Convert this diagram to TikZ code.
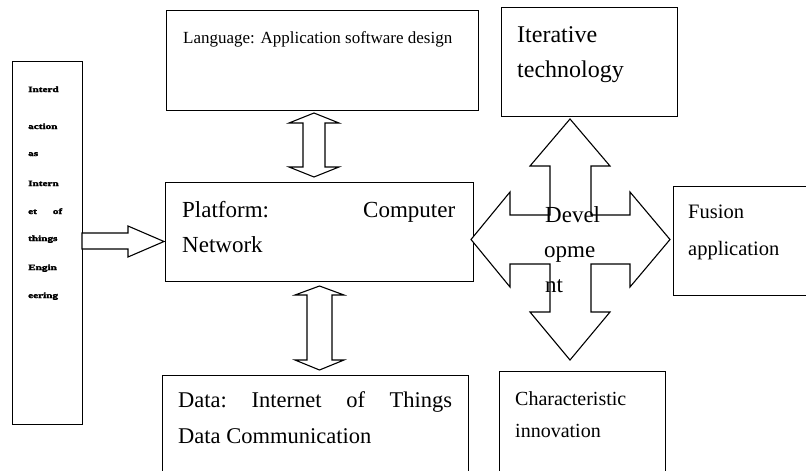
\documentclass[tikz,border=0pt]{standalone}
\usepackage{fontspec}
\setmainfont{Liberation Serif}
\newfontfamily\widefont[FakeStretch=1.4,FakeBold=3]{Liberation Serif Bold}
\begin{document}
\begin{tikzpicture}[x=1pt,y=-1pt,
  box/.style={draw,line width=1pt,anchor=north west,inner sep=0pt},
  blockarrow/.style={draw,line width=1.1pt,fill=white,line join=miter},
  txt/.style={anchor=base west,inner sep=0pt},
  tiny/.style={anchor=base west,inner sep=0pt,font=\widefont\fontsize{8}{9}\selectfont}]
\useasboundingbox (0,0) rectangle (806,471);
\clip (0,0) rectangle (806,471);
% boxes
\node[box,minimum width=70pt,minimum height=363pt] (inter) at (12,61) {};
\node[box,minimum width=312pt,minimum height=100pt] (lang) at (166,10) {};
\node[box,minimum width=308pt,minimum height=99pt] (plat) at (165,182) {};
\node[box,minimum width=306pt,minimum height=115pt] (data) at (162,375) {};
\node[box,minimum width=176pt,minimum height=109pt] (iter) at (501,7) {};
\node[box,minimum width=142pt,minimum height=109pt] (fusion) at (673,186) {};
\node[box,minimum width=166pt,minimum height=115pt] (char) at (499,371) {};
% block arrows
\draw[blockarrow] (82,233) -- (128,233) -- (128,226) -- (164,241.5) -- (128,257) -- (128,249) -- (82,249) -- cycle;
\draw[blockarrow] (314,113) -- (339,123) -- (325,123) -- (325,167) -- (339,167) -- (314,177) -- (289,167) -- (303,167) -- (303,123) -- (289,123) -- cycle;
\draw[blockarrow] (319.5,286) -- (344,295) -- (332,295) -- (332,360) -- (344,360) -- (319.5,370) -- (295,360) -- (307,360) -- (307,295) -- (295,295) -- cycle;
\draw[blockarrow] (570,119) -- (610,166) -- (591,166) -- (591,215) -- (630,215) -- (630,192) -- (670,239.5) -- (630,287) -- (630,264) -- (591,264) -- (591,312) -- (610,312) -- (570,360) -- (530,312) -- (550,312) -- (550,264) -- (510,264) -- (510,287) -- (471,239.5) -- (510,192) -- (510,215) -- (550,215) -- (550,166) -- (530,166) -- cycle;
% texts
\node[tiny] (t1) at (28,92) {Interd};
\node[tiny] (t2) at (28,129) {action};
\node[tiny] (t3) at (28,156) {as};
\node[tiny] (t4) at (28,186) {Intern};
\node[tiny] (t5) at (28,214) {\hbox to 34pt{et\hfill of}};
\node[tiny] (t6) at (28,241) {things};
\node[tiny] (t7) at (28,270) {Engin};
\node[tiny] (t8) at (28,298) {eering};
\node[txt,font=\fontsize{17}{20}\selectfont] (l1) at (183,43) {Language: Application software design};
\node[txt,font=\fontsize{23}{27}\selectfont] (p1) at (182,217) {\hbox to 273pt{Platform:\hfill Computer}};
\node[txt,font=\fontsize{23}{27}\selectfont] (p2) at (182,252) {Network};
\node[txt,font=\fontsize{22.5}{27}\selectfont] (d1) at (178,407) {\hbox to 274pt{Data:\hfill Internet\hfill of\hfill Things}};
\node[txt,font=\fontsize{22.5}{27}\selectfont] (d2) at (178,443) {Data Communication};
\node[txt,font=\fontsize{24}{28}\selectfont] (i1) at (517,42) {Iterative};
\node[txt,font=\fontsize{24}{28}\selectfont] (i2) at (517,77) {technology};
\node[txt,font=\fontsize{20.5}{24}\selectfont] (f1) at (688,218) {Fusion};
\node[txt,font=\fontsize{20.5}{24}\selectfont] (f2) at (688,255) {application};
\node[txt,font=\fontsize{20}{24}\selectfont] (c1) at (515,405) {Characteristic};
\node[txt,font=\fontsize{20}{24}\selectfont] (c2) at (515,437) {innovation};
\node[txt,font=\fontsize{23}{27}\selectfont] (v1) at (545,222) {Devel};
\node[txt,font=\fontsize{23}{27}\selectfont] (v2) at (544,257) {opme};
\node[txt,font=\fontsize{23}{27}\selectfont] (v3) at (545,292) {nt};
\end{tikzpicture}
\end{document}
